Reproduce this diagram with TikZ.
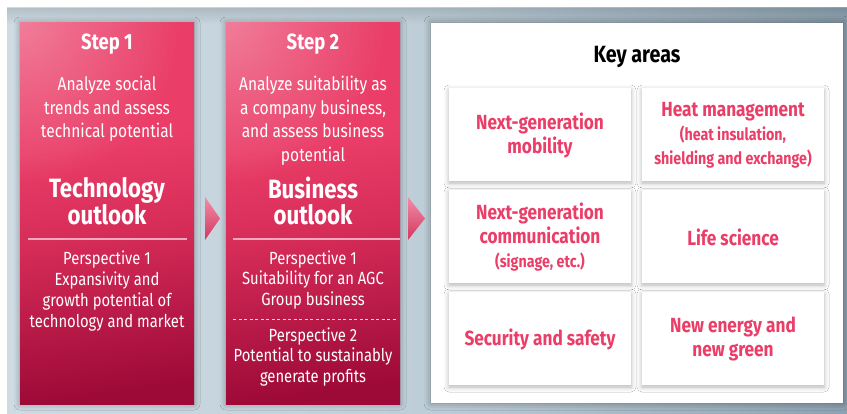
\documentclass[tikz,border=0pt]{standalone}
\usepackage{fontspec}
\setmainfont{Fira Sans}[FakeStretch=0.84]
\usetikzlibrary{shadows.blur,fadings}
\definecolor{bgl}{RGB}{206,219,227}
\definecolor{bgm}{RGB}{190,206,216}
\definecolor{bgr}{RGB}{142,162,177}
\definecolor{pinkTop}{RGB}{242,140,168}
\definecolor{pinkMid}{RGB}{234,62,104}
\definecolor{pinkLow}{RGB}{214,44,88}
\definecolor{crimson}{RGB}{158,10,56}
\definecolor{keyred}{RGB}{234,62,104}
\newcommand\ksmallfont{\fontsize{17}{22}\selectfont}
\pgfdeclareverticalshading{stepshade}{100bp}{color(0bp)=(crimson); color(25bp)=(crimson); color(47bp)=(pinkLow); color(60bp)=(pinkMid); color(75bp)=(pinkMid); color(100bp)=(pinkMid!92!white)}
\tikzfading[name=glowfade, inner color=transparent!0, outer color=transparent!100]
\tikzset{
  stepbox/.style={draw=none,shading=stepshade,shading angle=8,
    blur shadow={shadow xshift=0pt,shadow yshift=0pt,shadow blur radius=6pt,shadow opacity=35}},
  wtext/.style={text=white,align=center,inner sep=0pt},
  stitle/.style={wtext,font=\bfseries\fontsize{22}{24}\selectfont},
  sbody/.style={wtext,font=\fontsize{18.5}{23.5}\selectfont},
  sout/.style={wtext,font=\bfseries\fontsize{26.5}{25.5}\selectfont},
  spersp/.style={wtext,font=\fontsize{17.6}{20.8}\selectfont},
  card/.style={fill=white,draw=none,blur shadow={shadow xshift=0pt,shadow yshift=-2pt,shadow blur radius=5pt,shadow opacity=30}},
  ktext/.style={text=keyred,align=center,inner sep=0pt,font=\bfseries\fontsize{20.5}{24}\selectfont},
  arrowtri/.style={top color=pinkTop,bottom color=pinkMid!90!black,draw=none},
  glow/.style={fill=white,opacity=0.32,path fading=glowfade}
}
\begin{document}
\begin{tikzpicture}[x=1pt,y=-1pt]
\useasboundingbox (0,0) rectangle (847,414);
% background panel
\fill[white] (0,0) rectangle (847,414);
\shade[left color=bgl,right color=bgr,middle color=bgm] (7,8) rectangle (847,414);
\fill[black,opacity=0.12,path fading=south] (7,8) rectangle (847,24);
% step boxes
\path[stepbox] (20,23) rectangle (194,404);
\path[stepbox] (226,23) rectangle (400,404);
\begin{scope}
\clip (20,23) rectangle (194,404);
\path[glow] (20,23) circle (160);
\end{scope}
\begin{scope}
\clip (226,23) rectangle (400,404);
\path[glow] (226,23) circle (160);
\end{scope}
% arrows
\path[arrowtri] (205,197) -- (220,218.5) -- (205,240) -- cycle;
\path[arrowtri] (408,197) -- (425,218.5) -- (408,240) -- cycle;
% step 1 text
\node[stitle] (s1t) at (107,44) {Step 1};
\node[sbody] (s1d) at (107,109) {Analyze social\\trends and assess\\technical potential};
\node[sout] (s1o) at (107,201) {Technology\\outlook};
\coordinate (s1la) at (28,239);
\coordinate (s1lb) at (187,239);
\draw[white,opacity=0.6,line width=1.2pt] (s1la) -- (s1lb);
\node[spersp] (s1p) at (107,291) {Perspective 1\\Expansivity and\\growth potential of\\technology and market};
% step 2 text
\node[stitle] (s2t) at (313,44) {Step 2};
\node[sbody] (s2d) at (313,121) {Analyze suitability as\\a company business,\\and assess business\\potential};
\node[sout] (s2o) at (313,201) {Business\\outlook};
\coordinate (s2la) at (233,239);
\coordinate (s2lb) at (400,239);
\draw[white,opacity=0.6,line width=1.2pt] (s2la) -- (s2lb);
\node[spersp] (s2p1) at (313,280) {Perspective 1\\Suitability for an AGC\\Group business};
\coordinate (s2da) at (233,319);
\coordinate (s2db) at (397,319);
\draw[white,opacity=0.8,dash pattern=on 3pt off 2.5pt,line width=0.6pt] (s2da) -- (s2db);
\node[spersp] (s2p2) at (313,357) {Perspective 2\\Potential to sustainably\\generate profits};
% key areas
\path[fill=white,blur shadow={shadow xshift=0pt,shadow yshift=0pt,shadow blur radius=7pt,shadow opacity=40}] (431,23) rectangle (843,403);
\node[font=\bfseries\fontsize{23.5}{26}\selectfont,inner sep=0pt] (kt) at (637,57) {Key areas};
\path[card] (449,88) rectangle (631,181);
\path[card] (642,88) rectangle (824,181);
\path[card] (449,190) rectangle (631,283);
\path[card] (642,190) rectangle (824,283);
\path[card] (449,292) rectangle (631,385);
\path[card] (642,292) rectangle (824,385);
\node[ktext] (k1) at (540,135) {Next-generation\\mobility};
\node[ktext] (k2) at (733,135) {Heat management\\{\ksmallfont(heat insulation,}\\{\ksmallfont shielding and exchange)}};
\node[ktext] (k3) at (540,237) {Next-generation\\communication\\{\ksmallfont(signage, etc.)}};
\node[ktext] (k4) at (733,237) {Life science};
\node[ktext] (k5) at (540,339) {Security and safety};
\node[ktext] (k6) at (733,339) {New energy and\\new green};
\end{tikzpicture}
\end{document}
